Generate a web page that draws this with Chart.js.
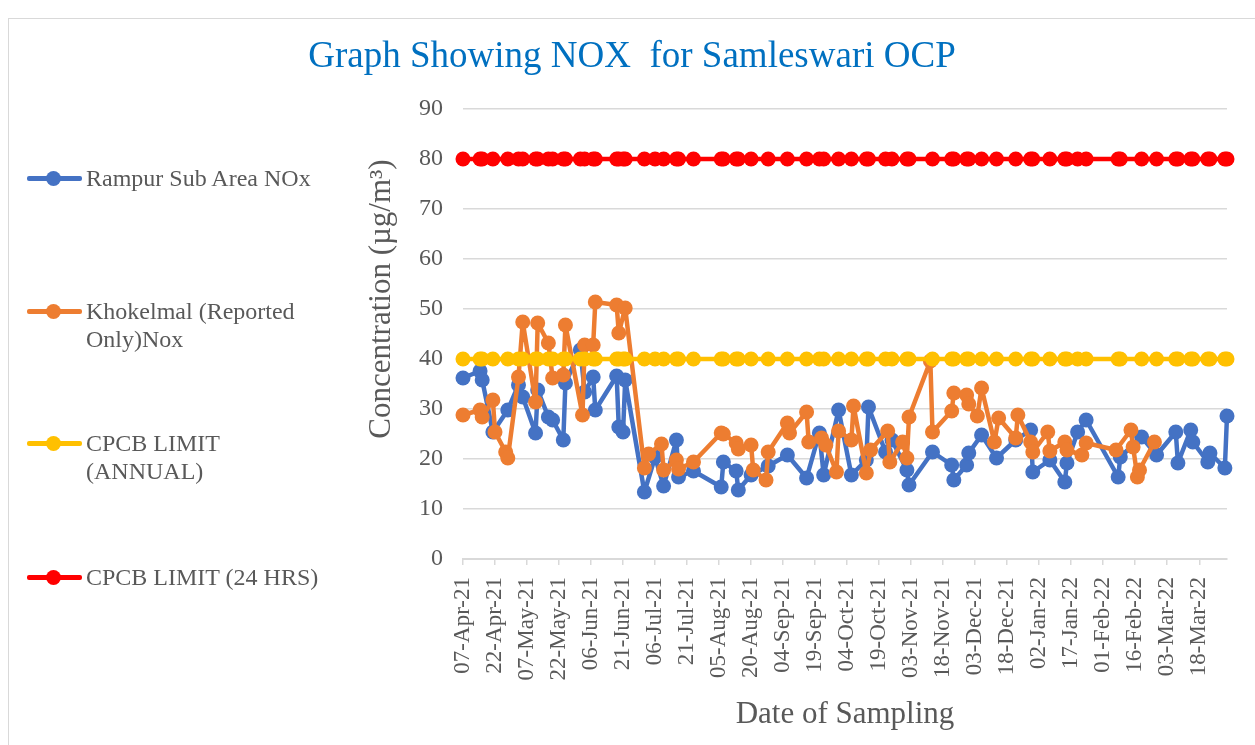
<!DOCTYPE html>
<html>
<head>
<meta charset="utf-8">
<script src="https://cdn.jsdelivr.net/npm/chart.js@4.4.1/dist/chart.umd.min.js"></script>
<style>
  body { margin: 0; background: #fff; width: 1255px; height: 745px; overflow: hidden; position: relative; font-family: "Liberation Serif", "Times New Roman", serif; }
  #frame { position: absolute; left: 8px; top: 18px; width: 1250px; height: 730px; border-left: 1px solid #d9d9d9; border-top: 1px solid #d9d9d9; }
  #title { position: absolute; left: 0; top: 33px; width: 1264px; text-align: center; font-size: 37px; line-height: 44px; color: #0070c0; white-space: pre; }
  #ytitle { position: absolute; left: 180px; top: 281px; width: 400px; text-align: center; font-size: 31px; line-height: 36px; color: #595959; transform: rotate(-90deg); transform-origin: 200px 18px; }
  .item { position: absolute; left: 27px; }
  .mark { position: absolute; left: 0; top: 7px; width: 55px; height: 14px; }
  .mark .ln { position: absolute; left: 0; top: 5px; width: 55px; height: 5px; border-radius: 2px; }
  .mark .dot { position: absolute; left: 19px; top: 0; width: 15px; height: 15px; border-radius: 50%; }
  .item .txt { position: absolute; left: 59px; top: 0; font-size: 24px; line-height: 28px; color: #595959; white-space: nowrap; }
  canvas { position: absolute; left: 0; top: 0; }
</style>
</head>
<body>
<div id="frame"></div>
<canvas id="noxChart" width="1255" height="745"></canvas>
<div id="title">Graph Showing NOX  for Samleswari OCP</div>
<div id="ytitle">Concentration (µg/m³)</div>
<div id="legend"></div>
<script>
// Rampur Sub Area (sampling dates also carry the CPCB limit markers)
const rampurDates = ['2021-04-07','2021-04-15','2021-04-16','2021-04-21','2021-04-28','2021-05-03','2021-05-05','2021-05-11','2021-05-12','2021-05-17','2021-05-19','2021-05-24','2021-05-25','2021-06-01','2021-06-03','2021-06-07','2021-06-08','2021-06-18','2021-06-19','2021-06-21','2021-06-22','2021-07-01','2021-07-06','2021-07-10','2021-07-16','2021-07-17','2021-07-24','2021-08-06','2021-08-07','2021-08-13','2021-08-14','2021-08-20','2021-08-28','2021-09-06','2021-09-15','2021-09-21','2021-09-23','2021-09-30','2021-10-06','2021-10-13','2021-10-14','2021-10-22','2021-10-25','2021-11-01','2021-11-02','2021-11-13','2021-11-22','2021-11-23','2021-11-29','2021-11-30','2021-12-06','2021-12-13','2021-12-22','2021-12-29','2021-12-30','2022-01-07','2022-01-14','2022-01-15','2022-01-20','2022-01-24','2022-02-08','2022-02-09','2022-02-19','2022-02-26','2022-03-07','2022-03-08','2022-03-14','2022-03-15','2022-03-22','2022-03-23','2022-03-30','2022-03-31'];
const rampurNox = [36.2,37.6,35.8,25.4,29.8,34.8,32.4,25.2,33.8,28.4,27.8,23.8,35.2,41.8,33.4,36.4,29.8,36.6,26.4,25.4,35.8,13.4,20.4,14.6,23.8,16.4,17.6,14.4,19.4,17.6,13.8,16.8,18.6,20.8,16.2,25.2,16.8,29.8,16.8,19.8,30.4,21.4,23.8,17.8,14.8,21.4,18.8,15.8,18.8,21.2,24.8,20.2,23.8,25.8,17.4,19.8,15.4,19.2,25.4,27.8,16.4,20.4,24.4,20.8,25.4,19.2,25.8,23.4,19.4,21.2,18.2,28.6];

// Khokelmal (reported only)
const khokelmalDates = ['2021-04-07','2021-04-15','2021-04-16','2021-04-21','2021-04-22','2021-04-27','2021-04-28','2021-05-03','2021-05-05','2021-05-11','2021-05-12','2021-05-17','2021-05-19','2021-05-24','2021-05-25','2021-06-02','2021-06-03','2021-06-07','2021-06-08','2021-06-18','2021-06-19','2021-06-22','2021-07-01','2021-07-03','2021-07-09','2021-07-10','2021-07-16','2021-07-17','2021-07-24','2021-08-06','2021-08-07','2021-08-13','2021-08-14','2021-08-20','2021-08-21','2021-08-27','2021-08-28','2021-09-06','2021-09-07','2021-09-15','2021-09-16','2021-09-22','2021-09-24','2021-09-29','2021-09-30','2021-10-06','2021-10-07','2021-10-13','2021-10-15','2021-10-23','2021-10-24','2021-10-30','2021-11-01','2021-11-02','2021-11-12','2021-11-13','2021-11-22','2021-11-23','2021-11-29','2021-11-30','2021-12-04','2021-12-06','2021-12-12','2021-12-14','2021-12-22','2021-12-23','2021-12-29','2021-12-30','2022-01-06','2022-01-07','2022-01-14','2022-01-15','2022-01-22','2022-01-24','2022-02-07','2022-02-14','2022-02-15','2022-02-17','2022-02-18','2022-02-25'];
const khokelmalNox = [28.8,29.8,28.4,31.8,25.4,21.4,20.2,36.4,47.4,31.4,47.2,43.2,36.2,36.8,46.8,28.8,42.8,42.8,51.4,50.8,45.2,50.2,18.2,21.0,23.0,17.8,19.8,18.0,19.4,25.2,25.0,23.2,22.0,22.8,17.8,15.8,21.4,27.2,25.2,29.4,23.4,24.2,22.8,17.4,25.6,23.8,30.6,17.2,21.8,25.6,19.4,23.4,20.2,28.4,39.6,25.4,29.6,33.2,32.8,31.0,28.6,34.2,23.4,28.2,24.2,28.8,23.4,21.4,25.4,21.6,23.4,21.8,20.8,23.2,21.8,25.8,22.4,16.4,17.8,23.4];

const cpcbAnnual = 40;
const cpcb24h = 80;

const seriesNames = ['Rampur Sub Area NOx', 'Khokelmal (Reported\nOnly)Nox', 'CPCB LIMIT\n(ANNUAL)', 'CPCB LIMIT (24 HRS)'];
const seriesColors = ['#4472c4', '#ed7d31', '#ffc000', '#ff0000'];
const yTicks = [0, 10, 20, 30, 40, 50, 60, 70, 80, 90];
const axisStart = '2021-04-07';
const axisEnd = '2022-03-31';
const tickEveryDays = 15;

const monthNames = ['Jan','Feb','Mar','Apr','May','Jun','Jul','Aug','Sep','Oct','Nov','Dec'];
const DAY = 86400000;
const utc = s => { const p = s.split('-').map(Number); return Date.UTC(p[0], p[1] - 1, p[2]); };
const t0 = utc(axisStart);
const toDay = s => Math.round((utc(s) - t0) / DAY);
const dayLabel = v => {
  const d = new Date(t0 + v * DAY);
  return String(d.getUTCDate()).padStart(2, '0') + '-' + monthNames[d.getUTCMonth()] + '-' + String(d.getUTCFullYear()).slice(2);
};
const pts = (dates, vals) => dates.map((s, i) => ({ x: toDay(s), y: vals[i] }));

// html legend, items sit at the left like the original
const legendTops = [164, 297, 429, 563];
const legendBox = document.getElementById('legend');
seriesNames.forEach((name, i) => {
  const item = document.createElement('div');
  item.className = 'item';
  item.style.top = legendTops[i] + 'px';
  item.innerHTML = '<div class="mark"><div class="ln" style="background:' + seriesColors[i] + '"></div><div class="dot" style="background:' + seriesColors[i] + '"></div></div>' +
    '<div class="txt">' + name.replace('\n', '<br>') + '</div>';
  legendBox.appendChild(item);
});

const lineSet = (label, data, color, order) => ({
  label: label,
  data: data,
  borderColor: color,
  backgroundColor: color,
  borderWidth: 4.5,
  borderJoinStyle: 'round',
  borderCapStyle: 'round',
  pointRadius: 7.5,
  pointBorderWidth: 0,
  pointBackgroundColor: color,
  tension: 0,
  clip: false,
  order: order
});

const ctx = document.getElementById('noxChart').getContext('2d');
new Chart(ctx, {
  type: 'line',
  data: {
    datasets: [
      lineSet(seriesNames[0], pts(rampurDates, rampurNox), seriesColors[0], 4),
      lineSet(seriesNames[1], pts(khokelmalDates, khokelmalNox), seriesColors[1], 3),
      lineSet(seriesNames[2], rampurDates.map(s => ({ x: toDay(s), y: cpcbAnnual })), seriesColors[2], 2),
      lineSet(seriesNames[3], rampurDates.map(s => ({ x: toDay(s), y: cpcb24h })), seriesColors[3], 1)
    ]
  },
  options: {
    responsive: false,
    animation: false,
    devicePixelRatio: 1,
    layout: { padding: { left: 365, right: 28, top: 109, bottom: 10 } },
    plugins: { legend: { display: false }, tooltip: { enabled: false } },
    scales: {
      x: {
        type: 'linear',
        min: 0,
        max: toDay(axisEnd),
        afterFit: s => { s.height = 176; },
        border: { display: true, color: '#d9d9d9', width: 2 },
        grid: { drawOnChartArea: false, drawTicks: true, tickLength: 6, color: '#d9d9d9', lineWidth: 1.5 },
        ticks: {
          stepSize: tickEveryDays,
          includeBounds: false,
          autoSkip: false,
          minRotation: 90,
          maxRotation: 90,
          padding: 12,
          color: '#595959',
          font: { family: 'Liberation Serif', size: 23 },
          callback: v => dayLabel(v)
        },
        title: {
          display: true,
          text: 'Date of Sampling',
          color: '#595959',
          font: { family: 'Liberation Serif', size: 31 },
          padding: { top: 4, bottom: 2 }
        }
      },
      y: {
        min: yTicks[0],
        max: yTicks[yTicks.length - 1],
        afterFit: s => { s.width = 98; },
        border: { display: false },
        grid: { color: '#d9d9d9', lineWidth: 1.5, drawTicks: false },
        ticks: {
          stepSize: 10,
          padding: 20,
          color: '#595959',
          font: { family: 'Liberation Serif', size: 24 }
        }
      }
    }
  }
});
</script>
</body>
</html>
